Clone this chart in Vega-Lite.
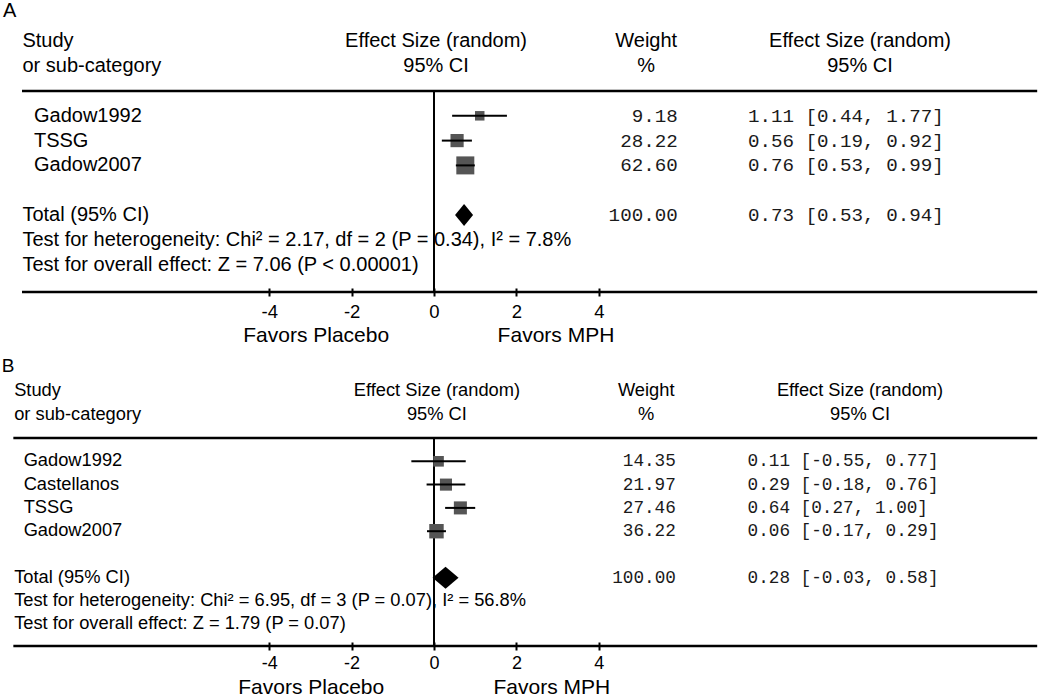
{
  "$schema": "https://vega.github.io/schema/vega-lite/v6.json",
  "background": "white",
  "padding": 0,
  "spacing": 55,
  "bounds": "flush",
  "config": {"view": {"stroke": null}, "text": {"font": "Liberation Sans", "color": "black", "baseline": "middle"}},
  "datasets": {
    "forestA": [
      {"line": 1, "study": "Gadow1992", "kind": "study", "es": 1.11, "lo": 0.44, "hi": 1.77, "weight": 9.18, "ci": "1.11 [0.44, 1.77]"},
      {"line": 2, "study": "TSSG", "kind": "study", "es": 0.56, "lo": 0.19, "hi": 0.92, "weight": 28.22, "ci": "0.56 [0.19, 0.92]"},
      {"line": 3, "study": "Gadow2007", "kind": "study", "es": 0.76, "lo": 0.53, "hi": 0.99, "weight": 62.60, "ci": "0.76 [0.53, 0.99]"},
      {"line": 5, "study": "Total (95% CI)", "kind": "total", "es": 0.73, "lo": 0.53, "hi": 0.94, "weight": 100.00, "ci": "0.73 [0.53, 0.94]"}
    ],
    "labelsA": [
      {"line": -2, "label": "Study"},
      {"line": -1, "label": "or sub-category"},
      {"line": 5, "label": "Total (95% CI)"},
      {"line": 6, "label": "Test for heterogeneity: Chi² = 2.17, df = 2 (P = 0.34), I² = 7.8%"},
      {"line": 7, "label": "Test for overall effect: Z = 7.06 (P < 0.00001)"}
    ],
    "forestB": [
      {"line": 1, "study": "Gadow1992", "kind": "study", "es": 0.11, "lo": -0.55, "hi": 0.77, "weight": 14.35, "ci": "0.11 [-0.55, 0.77]"},
      {"line": 2, "study": "Castellanos", "kind": "study", "es": 0.29, "lo": -0.18, "hi": 0.76, "weight": 21.97, "ci": "0.29 [-0.18, 0.76]"},
      {"line": 3, "study": "TSSG", "kind": "study", "es": 0.64, "lo": 0.27, "hi": 1.00, "weight": 27.46, "ci": "0.64 [0.27, 1.00]"},
      {"line": 4, "study": "Gadow2007", "kind": "study", "es": 0.06, "lo": -0.17, "hi": 0.29, "weight": 36.22, "ci": "0.06 [-0.17, 0.29]"},
      {"line": 6, "study": "Total (95% CI)", "kind": "total", "es": 0.28, "lo": -0.03, "hi": 0.58, "weight": 100.00, "ci": "0.28 [-0.03, 0.58]"}
    ],
    "labelsB": [
      {"line": -2, "label": "Study"},
      {"line": -1, "label": "or sub-category"},
      {"line": 6, "label": "Total (95% CI)"},
      {"line": 7, "label": "Test for heterogeneity: Chi² = 6.95, df = 3 (P = 0.07), I² = 56.8%"},
      {"line": 8, "label": "Test for overall effect: Z = 1.79 (P = 0.07)"}
    ],
    "headers": [
      {"line": -2, "col": "es", "text": "Effect Size (random)"},
      {"line": -1, "col": "es", "text": "95% CI"},
      {"line": -2, "col": "w", "text": "Weight"},
      {"line": -1, "col": "w", "text": "%"},
      {"line": -2, "col": "ci", "text": "Effect Size (random)"},
      {"line": -1, "col": "ci", "text": "95% CI"}
    ]
  },
  "vconcat": [
    {
      "width": 1050,
      "height": 290,
      "layer": [
        {"data": {"values": [{}]}, "mark": {"type": "rule", "color": "black", "strokeWidth": 2.5},
         "encoding": {"x": {"datum": -10.0, "type": "quantitative", "scale": {"domain": [-10.534, 14.951], "nice": false, "zero": false}, "axis": {"values": [-4, -2, 0, 2, 4], "domain": false, "grid": false, "ticks": true, "tickSize": 8, "tickWidth": 2, "tickColor": "black", "offset": -4, "labelFont": "Liberation Sans", "labelFontSize": 18.5, "labelColor": "black", "labelPadding": 6, "labelExpr": "'' + datum.value", "labelFlush": false, "labelOverlap": false, "title": null}}, "x2": {"datum": 14.64},
                      "y": {"datum": 0, "type": "quantitative", "scale": {"domain": [-3.589, 8.105], "reverse": true, "nice": false, "zero": false}, "axis": null}}},
        {"data": {"values": [{}]}, "mark": {"type": "rule", "color": "black", "strokeWidth": 2.5},
         "encoding": {"x": {"datum": -10.0, "type": "quantitative", "scale": {"domain": [-10.534, 14.951], "nice": false, "zero": false}, "axis": {"values": [-4, -2, 0, 2, 4], "domain": false, "grid": false, "ticks": true, "tickSize": 8, "tickWidth": 2, "tickColor": "black", "offset": -4, "labelFont": "Liberation Sans", "labelFontSize": 18.5, "labelColor": "black", "labelPadding": 6, "labelExpr": "'' + datum.value", "labelFlush": false, "labelOverlap": false, "title": null}}, "x2": {"datum": 14.64},
                      "y": {"datum": 8.105, "type": "quantitative", "scale": {"domain": [-3.589, 8.105], "reverse": true, "nice": false, "zero": false}, "axis": null}}},
        {"data": {"values": [{}]}, "mark": {"type": "rule", "color": "black", "strokeWidth": 2},
         "encoding": {"x": {"datum": 0, "type": "quantitative", "scale": {"domain": [-10.534, 14.951], "nice": false, "zero": false}, "axis": {"values": [-4, -2, 0, 2, 4], "domain": false, "grid": false, "ticks": true, "tickSize": 8, "tickWidth": 2, "tickColor": "black", "offset": -4, "labelFont": "Liberation Sans", "labelFontSize": 18.5, "labelColor": "black", "labelPadding": 6, "labelExpr": "'' + datum.value", "labelFlush": false, "labelOverlap": false, "title": null}},
                      "y": {"datum": 0, "type": "quantitative", "scale": {"domain": [-3.589, 8.105], "reverse": true, "nice": false, "zero": false}, "axis": null}, "y2": {"datum": 8.105}}},
        {"data": {"name": "forestA"}, "transform": [{"filter": "datum.kind === 'study'"}],
         "mark": {"type": "point", "shape": "square", "filled": true, "color": "#555555", "opacity": 1},
         "encoding": {"x": {"field": "es", "type": "quantitative", "scale": {"domain": [-10.534, 14.951], "nice": false, "zero": false}, "axis": {"values": [-4, -2, 0, 2, 4], "domain": false, "grid": false, "ticks": true, "tickSize": 8, "tickWidth": 2, "tickColor": "black", "offset": -4, "labelFont": "Liberation Sans", "labelFontSize": 18.5, "labelColor": "black", "labelPadding": 6, "labelExpr": "'' + datum.value", "labelFlush": false, "labelOverlap": false, "title": null}},
                      "y": {"field": "line", "type": "quantitative", "scale": {"domain": [-3.589, 8.105], "reverse": true, "nice": false, "zero": false}, "axis": null},
                      "size": {"field": "weight", "type": "quantitative", "scale": {"domain": [9.18, 62.6], "range": [90, 324], "zero": false}, "legend": null}}},
        {"data": {"name": "forestA"}, "transform": [{"filter": "datum.kind === 'study'"}],
         "mark": {"type": "rule", "color": "black", "strokeWidth": 2},
         "encoding": {"x": {"field": "lo", "type": "quantitative", "scale": {"domain": [-10.534, 14.951], "nice": false, "zero": false}, "axis": {"values": [-4, -2, 0, 2, 4], "domain": false, "grid": false, "ticks": true, "tickSize": 8, "tickWidth": 2, "tickColor": "black", "offset": -4, "labelFont": "Liberation Sans", "labelFontSize": 18.5, "labelColor": "black", "labelPadding": 6, "labelExpr": "'' + datum.value", "labelFlush": false, "labelOverlap": false, "title": null}}, "x2": {"field": "hi"},
                      "y": {"field": "line", "type": "quantitative", "scale": {"domain": [-3.589, 8.105], "reverse": true, "nice": false, "zero": false}, "axis": null}}},
        {"data": {"name": "forestA"}, "transform": [{"filter": "datum.kind === 'total'"}],
         "mark": {"type": "point", "shape": "M-0.82,0L0,-1L0.82,0L0,1Z", "filled": true, "color": "black", "opacity": 1, "size": 484},
         "encoding": {"x": {"field": "es", "type": "quantitative", "scale": {"domain": [-10.534, 14.951], "nice": false, "zero": false}, "axis": {"values": [-4, -2, 0, 2, 4], "domain": false, "grid": false, "ticks": true, "tickSize": 8, "tickWidth": 2, "tickColor": "black", "offset": -4, "labelFont": "Liberation Sans", "labelFontSize": 18.5, "labelColor": "black", "labelPadding": 6, "labelExpr": "'' + datum.value", "labelFlush": false, "labelOverlap": false, "title": null}},
                      "y": {"field": "line", "type": "quantitative", "scale": {"domain": [-3.589, 8.105], "reverse": true, "nice": false, "zero": false}, "axis": null}}},
        {"data": {"name": "labelsA"}, "mark": {"type": "text", "align": "left", "fontSize": 20},
         "encoding": {"x": {"datum": -9.99, "type": "quantitative", "scale": {"domain": [-10.534, 14.951], "nice": false, "zero": false}, "axis": {"values": [-4, -2, 0, 2, 4], "domain": false, "grid": false, "ticks": true, "tickSize": 8, "tickWidth": 2, "tickColor": "black", "offset": -4, "labelFont": "Liberation Sans", "labelFontSize": 18.5, "labelColor": "black", "labelPadding": 6, "labelExpr": "'' + datum.value", "labelFlush": false, "labelOverlap": false, "title": null}},
                      "y": {"field": "line", "type": "quantitative", "scale": {"domain": [-3.589, 8.105], "reverse": true, "nice": false, "zero": false}, "axis": null},
                      "text": {"field": "label"}}},
        {"data": {"name": "forestA"}, "transform": [{"filter": "datum.kind === 'study'"}], "mark": {"type": "text", "align": "left", "fontSize": 20},
         "encoding": {"x": {"datum": -9.71, "type": "quantitative", "scale": {"domain": [-10.534, 14.951], "nice": false, "zero": false}, "axis": {"values": [-4, -2, 0, 2, 4], "domain": false, "grid": false, "ticks": true, "tickSize": 8, "tickWidth": 2, "tickColor": "black", "offset": -4, "labelFont": "Liberation Sans", "labelFontSize": 18.5, "labelColor": "black", "labelPadding": 6, "labelExpr": "'' + datum.value", "labelFlush": false, "labelOverlap": false, "title": null}},
                      "y": {"field": "line", "type": "quantitative", "scale": {"domain": [-3.589, 8.105], "reverse": true, "nice": false, "zero": false}, "axis": null},
                      "text": {"field": "study"}}},
        {"data": {"name": "headers"}, "transform": [{"filter": "datum.col === 'es'"}], "mark": {"type": "text", "align": "center", "fontSize": 20},
         "encoding": {"x": {"datum": 0.05, "type": "quantitative", "scale": {"domain": [-10.534, 14.951], "nice": false, "zero": false}, "axis": {"values": [-4, -2, 0, 2, 4], "domain": false, "grid": false, "ticks": true, "tickSize": 8, "tickWidth": 2, "tickColor": "black", "offset": -4, "labelFont": "Liberation Sans", "labelFontSize": 18.5, "labelColor": "black", "labelPadding": 6, "labelExpr": "'' + datum.value", "labelFlush": false, "labelOverlap": false, "title": null}},
                      "y": {"field": "line", "type": "quantitative", "scale": {"domain": [-3.589, 8.105], "reverse": true, "nice": false, "zero": false}, "axis": null},
                      "text": {"field": "text"}}},
        {"data": {"name": "headers"}, "transform": [{"filter": "datum.col === 'w'"}], "mark": {"type": "text", "align": "center", "fontSize": 20},
         "encoding": {"x": {"datum": 5.15, "type": "quantitative", "scale": {"domain": [-10.534, 14.951], "nice": false, "zero": false}, "axis": {"values": [-4, -2, 0, 2, 4], "domain": false, "grid": false, "ticks": true, "tickSize": 8, "tickWidth": 2, "tickColor": "black", "offset": -4, "labelFont": "Liberation Sans", "labelFontSize": 18.5, "labelColor": "black", "labelPadding": 6, "labelExpr": "'' + datum.value", "labelFlush": false, "labelOverlap": false, "title": null}},
                      "y": {"field": "line", "type": "quantitative", "scale": {"domain": [-3.589, 8.105], "reverse": true, "nice": false, "zero": false}, "axis": null},
                      "text": {"field": "text"}}},
        {"data": {"name": "headers"}, "transform": [{"filter": "datum.col === 'ci'"}], "mark": {"type": "text", "align": "center", "fontSize": 20},
         "encoding": {"x": {"datum": 10.34, "type": "quantitative", "scale": {"domain": [-10.534, 14.951], "nice": false, "zero": false}, "axis": {"values": [-4, -2, 0, 2, 4], "domain": false, "grid": false, "ticks": true, "tickSize": 8, "tickWidth": 2, "tickColor": "black", "offset": -4, "labelFont": "Liberation Sans", "labelFontSize": 18.5, "labelColor": "black", "labelPadding": 6, "labelExpr": "'' + datum.value", "labelFlush": false, "labelOverlap": false, "title": null}},
                      "y": {"field": "line", "type": "quantitative", "scale": {"domain": [-3.589, 8.105], "reverse": true, "nice": false, "zero": false}, "axis": null},
                      "text": {"field": "text"}}},
        {"data": {"name": "forestA"}, "mark": {"type": "text", "align": "right", "font": "Liberation Mono", "fontSize": 19.2, "color": "#1a1a1a"},
         "encoding": {"x": {"datum": 5.915, "type": "quantitative", "scale": {"domain": [-10.534, 14.951], "nice": false, "zero": false}, "axis": {"values": [-4, -2, 0, 2, 4], "domain": false, "grid": false, "ticks": true, "tickSize": 8, "tickWidth": 2, "tickColor": "black", "offset": -4, "labelFont": "Liberation Sans", "labelFontSize": 18.5, "labelColor": "black", "labelPadding": 6, "labelExpr": "'' + datum.value", "labelFlush": false, "labelOverlap": false, "title": null}},
                      "y": {"field": "line", "type": "quantitative", "scale": {"domain": [-3.589, 8.105], "reverse": true, "nice": false, "zero": false}, "axis": null},
                      "text": {"field": "weight", "type": "quantitative", "format": ".2f"}}},
        {"data": {"name": "forestA"}, "mark": {"type": "text", "align": "left", "font": "Liberation Mono", "fontSize": 19.2, "color": "#1a1a1a"},
         "encoding": {"x": {"datum": 7.62, "type": "quantitative", "scale": {"domain": [-10.534, 14.951], "nice": false, "zero": false}, "axis": {"values": [-4, -2, 0, 2, 4], "domain": false, "grid": false, "ticks": true, "tickSize": 8, "tickWidth": 2, "tickColor": "black", "offset": -4, "labelFont": "Liberation Sans", "labelFontSize": 18.5, "labelColor": "black", "labelPadding": 6, "labelExpr": "'' + datum.value", "labelFlush": false, "labelOverlap": false, "title": null}},
                      "y": {"field": "line", "type": "quantitative", "scale": {"domain": [-3.589, 8.105], "reverse": true, "nice": false, "zero": false}, "axis": null},
                      "text": {"field": "ci"}}},
        {"data": {"values": [{}]}, "mark": {"type": "text", "align": "left", "fontSize": 20},
         "encoding": {"x": {"datum": -10.46, "type": "quantitative", "scale": {"domain": [-10.534, 14.951], "nice": false, "zero": false}, "axis": {"values": [-4, -2, 0, 2, 4], "domain": false, "grid": false, "ticks": true, "tickSize": 8, "tickWidth": 2, "tickColor": "black", "offset": -4, "labelFont": "Liberation Sans", "labelFontSize": 18.5, "labelColor": "black", "labelPadding": 6, "labelExpr": "'' + datum.value", "labelFlush": false, "labelOverlap": false, "title": null}},
                      "y": {"datum": -3.246, "type": "quantitative", "scale": {"domain": [-3.589, 8.105], "reverse": true, "nice": false, "zero": false}, "axis": null},
                      "text": {"value": "A"}}},
        {"data": {"values": [{}]}, "mark": {"type": "text", "align": "center", "fontSize": 21},
         "encoding": {"x": {"datum": -2.86, "type": "quantitative", "scale": {"domain": [-10.534, 14.951], "nice": false, "zero": false}, "axis": {"values": [-4, -2, 0, 2, 4], "domain": false, "grid": false, "ticks": true, "tickSize": 8, "tickWidth": 2, "tickColor": "black", "offset": -4, "labelFont": "Liberation Sans", "labelFontSize": 18.5, "labelColor": "black", "labelPadding": 6, "labelExpr": "'' + datum.value", "labelFlush": false, "labelOverlap": false, "title": null}},
                      "y": {"datum": 9.879, "type": "quantitative", "scale": {"domain": [-3.589, 8.105], "reverse": true, "nice": false, "zero": false}, "axis": null},
                      "text": {"value": "Favors Placebo"}}},
        {"data": {"values": [{}]}, "mark": {"type": "text", "align": "center", "fontSize": 21},
         "encoding": {"x": {"datum": 2.96, "type": "quantitative", "scale": {"domain": [-10.534, 14.951], "nice": false, "zero": false}, "axis": {"values": [-4, -2, 0, 2, 4], "domain": false, "grid": false, "ticks": true, "tickSize": 8, "tickWidth": 2, "tickColor": "black", "offset": -4, "labelFont": "Liberation Sans", "labelFontSize": 18.5, "labelColor": "black", "labelPadding": 6, "labelExpr": "'' + datum.value", "labelFlush": false, "labelOverlap": false, "title": null}},
                      "y": {"datum": 9.879, "type": "quantitative", "scale": {"domain": [-3.589, 8.105], "reverse": true, "nice": false, "zero": false}, "axis": null},
                      "text": {"value": "Favors MPH"}}}
      ]
    },
    {
      "width": 1050,
      "height": 299,
      "layer": [
        {"data": {"values": [{}]}, "mark": {"type": "rule", "color": "black", "strokeWidth": 2.5},
         "encoding": {"x": {"datum": -10.21, "type": "quantitative", "scale": {"domain": [-10.534, 14.951], "nice": false, "zero": false}, "axis": {"values": [-4, -2, 0, 2, 4], "domain": false, "grid": false, "ticks": true, "tickSize": 8, "tickWidth": 2, "tickColor": "black", "offset": -4, "labelFont": "Liberation Sans", "labelFontSize": 18, "labelColor": "black", "labelPadding": 4.5, "labelExpr": "'' + datum.value", "labelFlush": false, "labelOverlap": false, "title": null}}, "x2": {"datum": 14.64},
                      "y": {"datum": 0, "type": "quantitative", "scale": {"domain": [-3.906, 8.927], "reverse": true, "nice": false, "zero": false}, "axis": null}}},
        {"data": {"values": [{}]}, "mark": {"type": "rule", "color": "black", "strokeWidth": 2.5},
         "encoding": {"x": {"datum": -10.21, "type": "quantitative", "scale": {"domain": [-10.534, 14.951], "nice": false, "zero": false}, "axis": {"values": [-4, -2, 0, 2, 4], "domain": false, "grid": false, "ticks": true, "tickSize": 8, "tickWidth": 2, "tickColor": "black", "offset": -4, "labelFont": "Liberation Sans", "labelFontSize": 18, "labelColor": "black", "labelPadding": 4.5, "labelExpr": "'' + datum.value", "labelFlush": false, "labelOverlap": false, "title": null}}, "x2": {"datum": 14.64},
                      "y": {"datum": 8.927, "type": "quantitative", "scale": {"domain": [-3.906, 8.927], "reverse": true, "nice": false, "zero": false}, "axis": null}}},
        {"data": {"values": [{}]}, "mark": {"type": "rule", "color": "black", "strokeWidth": 2},
         "encoding": {"x": {"datum": 0, "type": "quantitative", "scale": {"domain": [-10.534, 14.951], "nice": false, "zero": false}, "axis": {"values": [-4, -2, 0, 2, 4], "domain": false, "grid": false, "ticks": true, "tickSize": 8, "tickWidth": 2, "tickColor": "black", "offset": -4, "labelFont": "Liberation Sans", "labelFontSize": 18, "labelColor": "black", "labelPadding": 4.5, "labelExpr": "'' + datum.value", "labelFlush": false, "labelOverlap": false, "title": null}},
                      "y": {"datum": 0, "type": "quantitative", "scale": {"domain": [-3.906, 8.927], "reverse": true, "nice": false, "zero": false}, "axis": null}, "y2": {"datum": 8.927}}},
        {"data": {"name": "forestB"}, "transform": [{"filter": "datum.kind === 'study'"}],
         "mark": {"type": "point", "shape": "square", "filled": true, "color": "#555555", "opacity": 1},
         "encoding": {"x": {"field": "es", "type": "quantitative", "scale": {"domain": [-10.534, 14.951], "nice": false, "zero": false}, "axis": {"values": [-4, -2, 0, 2, 4], "domain": false, "grid": false, "ticks": true, "tickSize": 8, "tickWidth": 2, "tickColor": "black", "offset": -4, "labelFont": "Liberation Sans", "labelFontSize": 18, "labelColor": "black", "labelPadding": 4.5, "labelExpr": "'' + datum.value", "labelFlush": false, "labelOverlap": false, "title": null}},
                      "y": {"field": "line", "type": "quantitative", "scale": {"domain": [-3.906, 8.927], "reverse": true, "nice": false, "zero": false}, "axis": null},
                      "size": {"field": "weight", "type": "quantitative", "scale": {"domain": [14.35, 36.22], "range": [100, 180], "zero": false}, "legend": null}}},
        {"data": {"name": "forestB"}, "transform": [{"filter": "datum.kind === 'study'"}],
         "mark": {"type": "rule", "color": "black", "strokeWidth": 2},
         "encoding": {"x": {"field": "lo", "type": "quantitative", "scale": {"domain": [-10.534, 14.951], "nice": false, "zero": false}, "axis": {"values": [-4, -2, 0, 2, 4], "domain": false, "grid": false, "ticks": true, "tickSize": 8, "tickWidth": 2, "tickColor": "black", "offset": -4, "labelFont": "Liberation Sans", "labelFontSize": 18, "labelColor": "black", "labelPadding": 4.5, "labelExpr": "'' + datum.value", "labelFlush": false, "labelOverlap": false, "title": null}}, "x2": {"field": "hi"},
                      "y": {"field": "line", "type": "quantitative", "scale": {"domain": [-3.906, 8.927], "reverse": true, "nice": false, "zero": false}, "axis": null}}},
        {"data": {"name": "forestB"}, "transform": [{"filter": "datum.kind === 'total'"}],
         "mark": {"type": "point", "shape": "M-1,0L0,-0.85L1,0L0,0.85Z", "filled": true, "color": "black", "opacity": 1, "size": 676},
         "encoding": {"x": {"field": "es", "type": "quantitative", "scale": {"domain": [-10.534, 14.951], "nice": false, "zero": false}, "axis": {"values": [-4, -2, 0, 2, 4], "domain": false, "grid": false, "ticks": true, "tickSize": 8, "tickWidth": 2, "tickColor": "black", "offset": -4, "labelFont": "Liberation Sans", "labelFontSize": 18, "labelColor": "black", "labelPadding": 4.5, "labelExpr": "'' + datum.value", "labelFlush": false, "labelOverlap": false, "title": null}},
                      "y": {"field": "line", "type": "quantitative", "scale": {"domain": [-3.906, 8.927], "reverse": true, "nice": false, "zero": false}, "axis": null}}},
        {"data": {"name": "labelsB"}, "mark": {"type": "text", "align": "left", "fontSize": 18.3},
         "encoding": {"x": {"datum": -10.19, "type": "quantitative", "scale": {"domain": [-10.534, 14.951], "nice": false, "zero": false}, "axis": {"values": [-4, -2, 0, 2, 4], "domain": false, "grid": false, "ticks": true, "tickSize": 8, "tickWidth": 2, "tickColor": "black", "offset": -4, "labelFont": "Liberation Sans", "labelFontSize": 18, "labelColor": "black", "labelPadding": 4.5, "labelExpr": "'' + datum.value", "labelFlush": false, "labelOverlap": false, "title": null}},
                      "y": {"field": "line", "type": "quantitative", "scale": {"domain": [-3.906, 8.927], "reverse": true, "nice": false, "zero": false}, "axis": null},
                      "text": {"field": "label"}}},
        {"data": {"name": "forestB"}, "transform": [{"filter": "datum.kind === 'study'"}], "mark": {"type": "text", "align": "left", "fontSize": 18.3},
         "encoding": {"x": {"datum": -9.96, "type": "quantitative", "scale": {"domain": [-10.534, 14.951], "nice": false, "zero": false}, "axis": {"values": [-4, -2, 0, 2, 4], "domain": false, "grid": false, "ticks": true, "tickSize": 8, "tickWidth": 2, "tickColor": "black", "offset": -4, "labelFont": "Liberation Sans", "labelFontSize": 18, "labelColor": "black", "labelPadding": 4.5, "labelExpr": "'' + datum.value", "labelFlush": false, "labelOverlap": false, "title": null}},
                      "y": {"field": "line", "type": "quantitative", "scale": {"domain": [-3.906, 8.927], "reverse": true, "nice": false, "zero": false}, "axis": null},
                      "text": {"field": "study"}}},
        {"data": {"name": "headers"}, "transform": [{"filter": "datum.col === 'es'"}], "mark": {"type": "text", "align": "center", "fontSize": 18.3},
         "encoding": {"x": {"datum": 0.07, "type": "quantitative", "scale": {"domain": [-10.534, 14.951], "nice": false, "zero": false}, "axis": {"values": [-4, -2, 0, 2, 4], "domain": false, "grid": false, "ticks": true, "tickSize": 8, "tickWidth": 2, "tickColor": "black", "offset": -4, "labelFont": "Liberation Sans", "labelFontSize": 18, "labelColor": "black", "labelPadding": 4.5, "labelExpr": "'' + datum.value", "labelFlush": false, "labelOverlap": false, "title": null}},
                      "y": {"field": "line", "type": "quantitative", "scale": {"domain": [-3.906, 8.927], "reverse": true, "nice": false, "zero": false}, "axis": null},
                      "text": {"field": "text"}}},
        {"data": {"name": "headers"}, "transform": [{"filter": "datum.col === 'w'"}], "mark": {"type": "text", "align": "center", "fontSize": 18.3},
         "encoding": {"x": {"datum": 5.15, "type": "quantitative", "scale": {"domain": [-10.534, 14.951], "nice": false, "zero": false}, "axis": {"values": [-4, -2, 0, 2, 4], "domain": false, "grid": false, "ticks": true, "tickSize": 8, "tickWidth": 2, "tickColor": "black", "offset": -4, "labelFont": "Liberation Sans", "labelFontSize": 18, "labelColor": "black", "labelPadding": 4.5, "labelExpr": "'' + datum.value", "labelFlush": false, "labelOverlap": false, "title": null}},
                      "y": {"field": "line", "type": "quantitative", "scale": {"domain": [-3.906, 8.927], "reverse": true, "nice": false, "zero": false}, "axis": null},
                      "text": {"field": "text"}}},
        {"data": {"name": "headers"}, "transform": [{"filter": "datum.col === 'ci'"}], "mark": {"type": "text", "align": "center", "fontSize": 18.3},
         "encoding": {"x": {"datum": 10.34, "type": "quantitative", "scale": {"domain": [-10.534, 14.951], "nice": false, "zero": false}, "axis": {"values": [-4, -2, 0, 2, 4], "domain": false, "grid": false, "ticks": true, "tickSize": 8, "tickWidth": 2, "tickColor": "black", "offset": -4, "labelFont": "Liberation Sans", "labelFontSize": 18, "labelColor": "black", "labelPadding": 4.5, "labelExpr": "'' + datum.value", "labelFlush": false, "labelOverlap": false, "title": null}},
                      "y": {"field": "line", "type": "quantitative", "scale": {"domain": [-3.906, 8.927], "reverse": true, "nice": false, "zero": false}, "axis": null},
                      "text": {"field": "text"}}},
        {"data": {"name": "forestB"}, "mark": {"type": "text", "align": "right", "font": "Liberation Mono", "fontSize": 17.7, "color": "#1a1a1a"},
         "encoding": {"x": {"datum": 5.87, "type": "quantitative", "scale": {"domain": [-10.534, 14.951], "nice": false, "zero": false}, "axis": {"values": [-4, -2, 0, 2, 4], "domain": false, "grid": false, "ticks": true, "tickSize": 8, "tickWidth": 2, "tickColor": "black", "offset": -4, "labelFont": "Liberation Sans", "labelFontSize": 18, "labelColor": "black", "labelPadding": 4.5, "labelExpr": "'' + datum.value", "labelFlush": false, "labelOverlap": false, "title": null}},
                      "y": {"field": "line", "type": "quantitative", "scale": {"domain": [-3.906, 8.927], "reverse": true, "nice": false, "zero": false}, "axis": null},
                      "text": {"field": "weight", "type": "quantitative", "format": ".2f"}}},
        {"data": {"name": "forestB"}, "mark": {"type": "text", "align": "left", "font": "Liberation Mono", "fontSize": 17.7, "color": "#1a1a1a"},
         "encoding": {"x": {"datum": 7.61, "type": "quantitative", "scale": {"domain": [-10.534, 14.951], "nice": false, "zero": false}, "axis": {"values": [-4, -2, 0, 2, 4], "domain": false, "grid": false, "ticks": true, "tickSize": 8, "tickWidth": 2, "tickColor": "black", "offset": -4, "labelFont": "Liberation Sans", "labelFontSize": 18, "labelColor": "black", "labelPadding": 4.5, "labelExpr": "'' + datum.value", "labelFlush": false, "labelOverlap": false, "title": null}},
                      "y": {"field": "line", "type": "quantitative", "scale": {"domain": [-3.906, 8.927], "reverse": true, "nice": false, "zero": false}, "axis": null},
                      "text": {"field": "ci"}}},
        {"data": {"values": [{}]}, "mark": {"type": "text", "align": "left", "fontSize": 19},
         "encoding": {"x": {"datum": -10.49, "type": "quantitative", "scale": {"domain": [-10.534, 14.951], "nice": false, "zero": false}, "axis": {"values": [-4, -2, 0, 2, 4], "domain": false, "grid": false, "ticks": true, "tickSize": 8, "tickWidth": 2, "tickColor": "black", "offset": -4, "labelFont": "Liberation Sans", "labelFontSize": 18, "labelColor": "black", "labelPadding": 4.5, "labelExpr": "'' + datum.value", "labelFlush": false, "labelOverlap": false, "title": null}},
                      "y": {"datum": -3.09, "type": "quantitative", "scale": {"domain": [-3.906, 8.927], "reverse": true, "nice": false, "zero": false}, "axis": null},
                      "text": {"value": "B"}}},
        {"data": {"values": [{}]}, "mark": {"type": "text", "align": "center", "fontSize": 21},
         "encoding": {"x": {"datum": -2.98, "type": "quantitative", "scale": {"domain": [-10.534, 14.951], "nice": false, "zero": false}, "axis": {"values": [-4, -2, 0, 2, 4], "domain": false, "grid": false, "ticks": true, "tickSize": 8, "tickWidth": 2, "tickColor": "black", "offset": -4, "labelFont": "Liberation Sans", "labelFontSize": 18, "labelColor": "black", "labelPadding": 4.5, "labelExpr": "'' + datum.value", "labelFlush": false, "labelOverlap": false, "title": null}},
                      "y": {"datum": 10.73, "type": "quantitative", "scale": {"domain": [-3.906, 8.927], "reverse": true, "nice": false, "zero": false}, "axis": null},
                      "text": {"value": "Favors Placebo"}}},
        {"data": {"values": [{}]}, "mark": {"type": "text", "align": "center", "fontSize": 21},
         "encoding": {"x": {"datum": 2.86, "type": "quantitative", "scale": {"domain": [-10.534, 14.951], "nice": false, "zero": false}, "axis": {"values": [-4, -2, 0, 2, 4], "domain": false, "grid": false, "ticks": true, "tickSize": 8, "tickWidth": 2, "tickColor": "black", "offset": -4, "labelFont": "Liberation Sans", "labelFontSize": 18, "labelColor": "black", "labelPadding": 4.5, "labelExpr": "'' + datum.value", "labelFlush": false, "labelOverlap": false, "title": null}},
                      "y": {"datum": 10.73, "type": "quantitative", "scale": {"domain": [-3.906, 8.927], "reverse": true, "nice": false, "zero": false}, "axis": null},
                      "text": {"value": "Favors MPH"}}}
      ]
    }
  ]
}
